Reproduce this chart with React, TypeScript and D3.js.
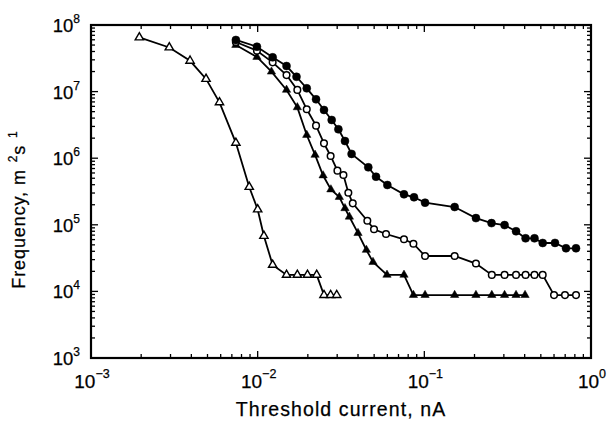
import React from "react";
import * as d3 from "d3";

// Threshold current (nA) and frequency (m^-2 s^-1) for four series
const filledCircleX = [0.0074, 0.0099, 0.0123, 0.0149, 0.0171, 0.0197, 0.0224, 0.025, 0.0278, 0.0305, 0.0334, 0.0366, 0.0461, 0.0513, 0.06, 0.0755, 0.0867, 0.101, 0.152, 0.204, 0.253, 0.303, 0.355, 0.405, 0.458, 0.513, 0.608, 0.708, 0.813];
const filledCircleY = [5.96e7, 4.72e7, 3.27e7, 2.42e7, 1.67e7, 1.12e7, 7.66e6, 5.3e6, 3.75e6, 2.72e6, 1.81e6, 1.16e6, 7.3e5, 5.27e5, 3.96e5, 2.87e5, 2.59e5, 2.15e5, 1.85e5, 1.26e5, 1.06e5, 9.9e4, 8.0e4, 6.27e4, 6.27e4, 5.33e4, 5.35e4, 4.44e4, 4.44e4];

const openCircleX = [0.0074, 0.0099, 0.0123, 0.0149, 0.0173, 0.0197, 0.0224, 0.025, 0.0274, 0.0301, 0.0327, 0.035, 0.0372, 0.0455, 0.0499, 0.0589, 0.0755, 0.086, 0.101, 0.152, 0.204, 0.254, 0.303, 0.355, 0.405, 0.458, 0.513, 0.6, 0.698, 0.813];
const openCircleY = [5.56e7, 4.11e7, 2.75e7, 1.77e7, 1.06e7, 5.42e6, 3.08e6, 1.67e6, 1.08e6, 6.5e5, 5.6e5, 3.03e5, 2.1e5, 1.15e5, 8.56e4, 7.27e4, 6.06e4, 5.2e4, 3.4e4, 3.4e4, 2.62e4, 1.77e4, 1.77e4, 1.77e4, 1.77e4, 1.77e4, 1.77e4, 8.8e3, 8.8e3, 8.8e3];

const filledTriangleX = [0.0074, 0.0099, 0.0121, 0.0149, 0.0173, 0.0197, 0.0221, 0.0247, 0.0275, 0.0309, 0.0334, 0.0355, 0.04, 0.0449, 0.0492, 0.0597, 0.0755, 0.086, 0.101, 0.152, 0.204, 0.254, 0.303, 0.355, 0.402];
const filledTriangleY = [5.0e7, 3.31e7, 1.99e7, 1.06e7, 5.8e6, 2.23e6, 1.12e6, 5.5e5, 3.39e5, 2.61e5, 1.77e5, 1.32e5, 7.5e4, 4.19e4, 2.76e4, 1.77e4, 1.77e4, 8.8e3, 8.8e3, 8.8e3, 8.8e3, 8.8e3, 8.8e3, 8.8e3, 8.8e3];

const openTriangleX = [0.00195, 0.00295, 0.00393, 0.0049, 0.0059, 0.0074, 0.0089, 0.01, 0.0109, 0.0123, 0.0149, 0.0173, 0.0199, 0.0226, 0.025, 0.0274, 0.0298];
const openTriangleY = [6.5e7, 4.6e7, 2.9e7, 1.55e7, 6.9e6, 1.7e6, 3.7e5, 1.7e5, 6.8e4, 2.5e4, 1.77e4, 1.77e4, 1.77e4, 1.77e4, 8.8e3, 8.8e3, 8.8e3];

const xTickExponents = [-3, -2, -1, 0];
const yTickExponents = [3, 4, 5, 6, 7, 8];

const xTitle = "Threshold current, nA";

const W = 609;
const H = 423;
const L = 91, R = 591, T = 25, B = 358;

export default function App() {
  const x = d3.scaleLog().domain([1e-3, 1]).range([L, R]);
  const y = d3.scaleLog().domain([1e3, 1e8]).range([B, T]);

  const line = d3
    .line<[number, number]>()
    .x((d) => x(d[0]))
    .y((d) => y(d[1]));

  const zip = (xs: number[], ys: number[]) => xs.map((v, i) => [v, ys[i]] as [number, number]);

  const series = [
    { pts: zip(openTriangleX, openTriangleY), shape: "tri", filled: false },
    { pts: zip(filledTriangleX, filledTriangleY), shape: "tri", filled: true },
    { pts: zip(openCircleX, openCircleY), shape: "circ", filled: false },
    { pts: zip(filledCircleX, filledCircleY), shape: "circ", filled: true },
  ];

  const triPath = d3.symbol(d3.symbolTriangle, 30)()!;

  const xMajor = xTickExponents.map((e) => Math.pow(10, e));
  const xMinor: number[] = [];
  for (let e = -3; e < 0; e++) for (let m = 2; m <= 9; m++) xMinor.push(m * Math.pow(10, e));
  const yMajor = yTickExponents.map((e) => Math.pow(10, e));
  const yMinor: number[] = [];
  for (let e = 3; e < 8; e++) for (let m = 2; m <= 9; m++) yMinor.push(m * Math.pow(10, e));

  const font = "'Liberation Sans', Arial, Helvetica, sans-serif";
  const tickStroke = 1.3;
  const textStroke = { stroke: "#000", strokeWidth: 0.25 };

  return (
    <svg width={W} height={H} viewBox={`0 0 ${W} ${H}`} style={{ position: "absolute", left: 0, top: 0, background: "#fff" }}>
      <rect x={0} y={0} width={W} height={H} fill="#fff" />
      <g stroke="#000" strokeWidth={tickStroke}>
        {xMajor.map((v, i) => (
          <g key={"xM" + i}>
            <line x1={x(v)} x2={x(v)} y1={B} y2={B - 7} />
            <line x1={x(v)} x2={x(v)} y1={T} y2={T + 7} />
          </g>
        ))}
        {xMinor.map((v, i) => (
          <g key={"xm" + i}>
            <line x1={x(v)} x2={x(v)} y1={B} y2={B - 4} />
            <line x1={x(v)} x2={x(v)} y1={T} y2={T + 4} />
          </g>
        ))}
        {yMajor.map((v, i) => (
          <g key={"yM" + i}>
            <line x1={L} x2={L + 7} y1={y(v)} y2={y(v)} />
            <line x1={R} x2={R - 7} y1={y(v)} y2={y(v)} />
          </g>
        ))}
        {yMinor.map((v, i) => (
          <g key={"ym" + i}>
            <line x1={L} x2={L + 4} y1={y(v)} y2={y(v)} />
            <line x1={R} x2={R - 4} y1={y(v)} y2={y(v)} />
          </g>
        ))}
      </g>
      <rect x={L} y={T} width={R - L} height={B - T} fill="none" stroke="#000" strokeWidth={2.2} />

      {series.map((s, i) => (
        <path key={"l" + i} d={line(s.pts) || ""} fill="none" stroke="#000" strokeWidth={1.8} />
      ))}
      {series.map((s, i) => (
        <g key={"m" + i}>
          {s.pts.map((p, j) =>
            s.shape === "circ" ? (
              <circle
                key={j}
                cx={x(p[0])}
                cy={y(p[1])}
                r={s.filled ? 4 : 3.3}
                fill={s.filled ? "#000" : "#fff"}
                stroke="#000"
                strokeWidth={s.filled ? 0.5 : 1.5}
              />
            ) : (
              <path
                key={j}
                d={triPath}
                transform={`translate(${x(p[0])},${y(p[1])})`}
                fill={s.filled ? "#000" : "#fff"}
                stroke="#000"
                strokeWidth={s.filled ? 0.5 : 1.4}
              />
            )
          )}
        </g>
      ))}

      {yTickExponents.map((e, i) => (
        <text key={"yl" + i} x={80} y={y(Math.pow(10, e)) + 7} textAnchor="end" fontFamily={font} fontSize={18.5} fill="#000" {...textStroke}>
          10
          <tspan fontSize={12} dy={-9}>{e}</tspan>
        </text>
      ))}
      {xTickExponents.map((e, i) => (
        <text key={"xl" + i} x={x(Math.pow(10, e)) + 1} y={388} textAnchor="middle" fontFamily={font} fontSize={19} fill="#000" {...textStroke}>
          10
          <tspan fontSize={12.5} dy={-10}>{e < 0 ? "\u2212" + Math.abs(e) : String(e)}</tspan>
        </text>
      ))}

      <text x={(L + R) / 2} y={416} textAnchor="middle" fontFamily={font} fontSize={19.5} letterSpacing={1.1} fill="#000" {...textStroke}>
        {xTitle}
      </text>
      <text
        transform={`translate(25,${(T + B) / 2 + 18}) rotate(-90)`}
        textAnchor="middle"
        fontFamily={font}
        fontSize={18}
        letterSpacing={0.9}
        fill="#000"
        {...textStroke}
      >
        Frequency, m
        <tspan fontSize={12} dy={-8}>{"\u2002"}2</tspan>
        <tspan dy={8}>s</tspan>
        <tspan fontSize={12} dy={-8}>{"\u2002"}1</tspan>
      </text>
    </svg>
  );
}
